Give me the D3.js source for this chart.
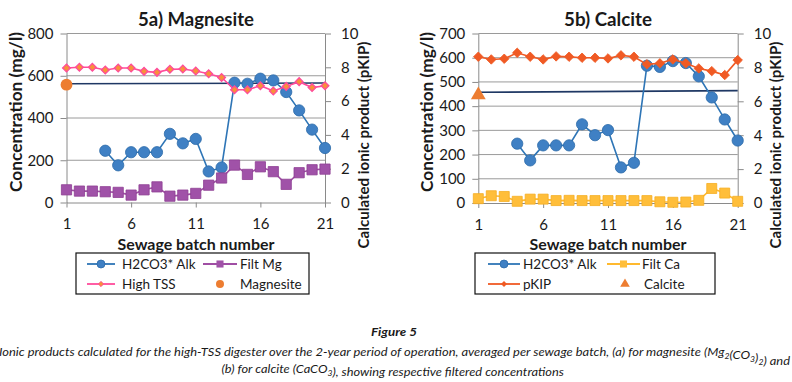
<!DOCTYPE html>
<html><head><meta charset="utf-8">
<script src="https://cdn.jsdelivr.net/npm/d3@7"></script>
<style>
body{margin:0;background:#fff}
svg{display:block}
text{font-family:Lato,'Open Sans',sans-serif;fill:#1a1a1a}
</style>
</head><body>
<svg id="c" width="792" height="382"></svg>
<script>
// ---------- data ----------
const batch = [1,2,3,4,5,6,7,8,9,10,11,12,13,14,15,16,17,18,19,20,21];
const xTicks = [1,6,11,16,21];
const alk = [null,null,null,245,176,238,238,238,325,280,301,147,166,567,562,586,578,523,436,345,258];
const filtMg = [60,54,54,51,48,35,60,74,30,35,43,82,116,177,133,169,146,86,141,155,158];
const highTSS = [7.96,8.0,8.0,7.84,7.96,7.96,7.76,7.7,7.88,7.9,7.78,7.62,7.4,6.67,6.67,6.91,6.6,6.87,7.15,6.8,6.91];
const magnesiteBatch = [1];
const magnesite = [6.97];
const mgLineBatch = [1,21];
const mgLine = [7.03,7.07];
const filtCa = [18,30,27,7,16,16,10,11,10,10,10,10,10,10,5,3,4,11,60,41,7];
const pKIP = [8.63,8.47,8.51,8.86,8.63,8.47,8.65,8.63,8.57,8.57,8.53,8.71,8.63,8.18,8.24,8.47,8.24,7.94,7.78,7.55,8.43];
const calciteBatch = [1];
const calcite = [6.37];
const caLineBatch = [1,21];
const caLine = [6.53,6.63];
const leftTicksA = [0,200,400,600,800];
const leftTicksB = [0,100,200,300,400,500,600,700];
const rightTicks = [0,2,4,6,8,10];

const svg = d3.select("#c");
const C = {
  alkLine:"#2e75b6", alkFill:"#3f80c4", alkStroke:"#2b6aa8",
  mg:"#a04ea4", mgFill:"#a052a8",
  tss:"#ff4b9b", tssFill:"#f7913a",
  orange:"#ed7d31", navy:"#1f3864",
  pkip:"#f05a24", ca:"#ffb92e", caFill:"#ffbe3a",
  grid:"#9a9a9a", axis:"#8a8a8a"
};

function fitWidth(sel, target){
  const n = sel.node();
  const fs = parseFloat(sel.attr("font-size"));
  const len = n.getComputedTextLength();
  sel.attr("font-size", (fs*target/len).toFixed(2));
}

function symPath(type, size){ return d3.symbol().type(type).size(size)(); }

function panel(o){
  const g = svg.append("g");
  const x = d3.scaleLinear().domain([1,21]).range([o.x0,o.x1]);
  const yL = d3.scaleLinear().domain([0,o.leftMax]).range([o.yb,o.yt]);
  const yR = d3.scaleLinear().domain([0,10]).range([o.yb,o.yt]);

  // gridlines
  g.append("g").selectAll("line").data(o.leftTicks.filter(d=>d>0)).join("line")
    .attr("x1",o.x0).attr("x2",o.x1).attr("y1",d=>yL(d)).attr("y2",d=>yL(d))
    .attr("stroke",C.grid).attr("stroke-width",1);

  // axes
  const styleAxis = a => {
    a.select(".domain").attr("stroke",C.axis).attr("stroke-width",1);
    a.selectAll(".tick line").attr("stroke",C.axis);
    a.selectAll("text").attr("font-size",15).attr("fill","#1a1a1a").attr("font-family","Lato");
  };
  g.append("g").attr("transform",`translate(${o.x0},0)`)
    .call(d3.axisLeft(yL).tickValues(o.leftTicks).tickSize(6).tickSizeOuter(0).tickPadding(7))
    .call(styleAxis);
  g.append("g").attr("transform",`translate(${o.x1},0)`)
    .call(d3.axisRight(yR).tickValues(rightTicks).tickSize(6).tickSizeOuter(0).tickPadding(10))
    .call(styleAxis);
  g.append("g").attr("transform",`translate(0,${o.yb})`)
    .call(d3.axisBottom(x).tickValues(xTicks).tickSize(5).tickSizeOuter(0).tickPadding(11))
    .call(styleAxis);

  // navy reference line
  g.append("path").datum(o.refB.map((b,i)=>[b,o.ref[i]]))
    .attr("d",d3.line().x(d=>x(d[0])).y(d=>yR(d[1])))
    .attr("fill","none").attr("stroke",C.navy).attr("stroke-width",1.6);

  // series
  o.series.forEach(s=>{
    const ys = s.axis==="L"?yL:yR;
    const pts = batch.map((b,i)=>({b,v:s.data[i]}));
    g.append("path").datum(pts)
      .attr("d",d3.line().defined(d=>d.v!=null).x(d=>x(d.b)).y(d=>ys(d.v)))
      .attr("fill","none").attr("stroke",s.line).attr("stroke-width",s.lw||1.6);
    g.append("g").selectAll("path").data(pts.filter(d=>d.v!=null)).join("path")
      .attr("d",symPath(s.sym,s.size))
      .attr("transform",d=>`translate(${x(d.b)},${ys(d.v)})${s.rot?" rotate(45)":""}`)
      .attr("fill",s.fill).attr("stroke",s.stroke).attr("stroke-width",s.sw||0.8);
  });

  // single point (mineral)
  g.append("g").selectAll("path").data(o.pointB.map((b,i)=>({b,v:o.point[i]}))).join("path")
    .attr("d",symPath(o.pointSym,o.pointSize))
    .attr("transform",d=>`translate(${x(d.b)},${yR(d.v)})`)
    .attr("fill",C.orange);

  // titles
  const t = g.append("text").attr("x",o.cx).attr("y",26).attr("text-anchor","middle")
    .attr("font-size",17).attr("font-weight",700).text(o.title);
  fitWidth(t,o.titleW);
  const xt = g.append("text").attr("x",o.cx).attr("y",250).attr("text-anchor","middle")
    .attr("font-size",15).attr("font-weight",700).text("Sewage batch number");
  fitWidth(xt,157);
  const lt = g.append("text").attr("transform",`translate(${o.ltx},${112}) rotate(-90)`)
    .attr("text-anchor","middle").attr("dy","0.36em")
    .attr("font-size",15).attr("font-weight",700).text("Concentration (mg/l)");
  fitWidth(lt,160);
  const rt = g.append("text").attr("transform",`translate(${o.rtx},${145}) rotate(-90)`)
    .attr("text-anchor","middle").attr("dy","0.36em")
    .attr("font-size",15).attr("font-weight",700).text("Calculated ionic product (pKIP)");
  fitWidth(rt,207);

  // legend
  const L = o.legend;
  g.append("rect").attr("x",L.x).attr("y",253).attr("width",L.w).attr("height",41)
    .attr("fill","#fff").attr("stroke","#111").attr("stroke-width",1.2);
  L.items.forEach(it=>{
    const y = it.row===0?264:284;
    if(it.line){
      g.append("line").attr("x1",it.lx0).attr("x2",it.lx1).attr("y1",y).attr("y2",y)
        .attr("stroke",it.line).attr("stroke-width",1.8);
    }
    g.append("path").attr("d",symPath(it.sym,it.size))
      .attr("transform",`translate(${(it.lx0+it.lx1)/2},${y})${it.rot?" rotate(45)":""}`)
      .attr("fill",it.fill).attr("stroke",it.stroke||"none").attr("stroke-width",0.8);
    g.append("text").attr("x",it.tx).attr("y",y).attr("dy","0.35em")
      .attr("font-size",13.5).text(it.label);
  });
}

panel({
  x0:66.5, x1:325, yb:202.5, yt:33.5, leftMax:800, leftTicks:leftTicksA,
  title:"5a) Magnesite", titleW:116, cx:196, ltx:16, rtx:364,
  refB:mgLineBatch, ref:mgLine,
  pointB:magnesiteBatch, point:magnesite, pointSym:d3.symbolCircle, pointSize:110,
  series:[
    {data:alk, axis:"L", line:C.alkLine, fill:C.alkFill, stroke:C.alkStroke, sym:d3.symbolCircle, size:100},
    {data:filtMg, axis:"L", line:C.mg, fill:C.mgFill, stroke:"#8e3f93", sym:d3.symbolSquare, size:105},
    {data:highTSS, axis:"R", line:C.tss, fill:C.tssFill, stroke:C.tss, sym:d3.symbolSquare, size:30, rot:true, sw:1.3}
  ],
  legend:{x:76, w:233, items:[
    {row:0, lx0:87, lx1:115, tx:122, line:C.alkLine, sym:d3.symbolCircle, size:50, fill:C.alkFill, stroke:C.alkStroke, label:"H2CO3* Alk"},
    {row:0, lx0:203, lx1:237, tx:240, line:C.mg, sym:d3.symbolSquare, size:50, fill:C.mgFill, label:"Filt Mg"},
    {row:1, lx0:87, lx1:115, tx:122, line:C.tss, sym:d3.symbolSquare, size:14, rot:true, fill:C.tssFill, stroke:C.tss, label:"High TSS"},
    {row:1, lx0:220, lx1:220, tx:240, line:null, sym:d3.symbolCircle, size:50, fill:C.orange, label:"Magnesite"}
  ]}
});

panel({
  x0:478.3, x1:737.7, yb:203, yt:33.5, leftMax:700, leftTicks:leftTicksB,
  title:"5b) Calcite", titleW:88, cx:608, ltx:427, rtx:776,
  refB:caLineBatch, ref:caLine,
  pointB:calciteBatch, point:calcite, pointSym:d3.symbolTriangle, pointSize:95,
  series:[
    {data:alk, axis:"L", line:C.alkLine, fill:C.alkFill, stroke:C.alkStroke, sym:d3.symbolCircle, size:100},
    {data:filtCa, axis:"L", line:C.ca, fill:C.caFill, stroke:"#f5ad22", sym:d3.symbolSquare, size:100},
    {data:pKIP, axis:"R", line:C.pkip, fill:C.pkip, stroke:C.pkip, sym:d3.symbolSquare, size:45, rot:true}
  ],
  legend:{x:475, w:240, items:[
    {row:0, lx0:488, lx1:520, tx:523, line:C.alkLine, sym:d3.symbolCircle, size:50, fill:C.alkFill, stroke:C.alkStroke, label:"H2CO3* Alk"},
    {row:0, lx0:607, lx1:640, tx:642, line:C.ca, sym:d3.symbolSquare, size:50, fill:C.caFill, label:"Filt Ca"},
    {row:1, lx0:488, lx1:520, tx:523, line:C.pkip, sym:d3.symbolSquare, size:18, rot:true, fill:C.pkip, label:"pKIP"},
    {row:1, lx0:625, lx1:625, tx:644, line:null, sym:d3.symbolTriangle, size:40, fill:C.orange, label:"Calcite"}
  ]}
});

// ---------- caption ----------
function capLine(y, cx, target, build, opts){
  const t = svg.append("text").attr("x",0).attr("y",0)
    .attr("font-family","'Liberation Sans Narrow','Liberation Sans',sans-serif")
    .attr("font-style","italic").attr("font-size",opts.size).attr("font-weight",opts.bold?700:400)
    .attr("fill","#1a1a1a");
  build(t);
  const w = t.node().getBBox().width;
  const k = target/w;
  t.attr("transform",`translate(${cx-target/2},${y}) scale(${k},1)`);
}
function addParts(t, parts){
  parts.forEach(p=>{
    if(typeof p==="string") t.append("tspan").text(p);
    else { t.append("tspan").attr("font-size",8).attr("dy",3).text(p.sub);
           t.append("tspan").attr("dy",-3).text(""); }
  });
}
capLine(336, 394, 46, t=>t.text("Figure 5"), {size:12, bold:true});
capLine(356, 395, 792, t=>addParts(t,[
  "Ionic products calculated for the high-TSS digester over the 2-year period of operation, averaged per sewage batch, (a) for magnesite (Mg",
  {sub:"2"},"(CO",{sub:"3"},")",{sub:"2"},") and"]), {size:12});
capLine(373, 393, 343, t=>addParts(t,[
  "(b) for calcite (CaCO",{sub:"3"},"), showing respective filtered concentrations"]), {size:12});
</script>
</body></html>
